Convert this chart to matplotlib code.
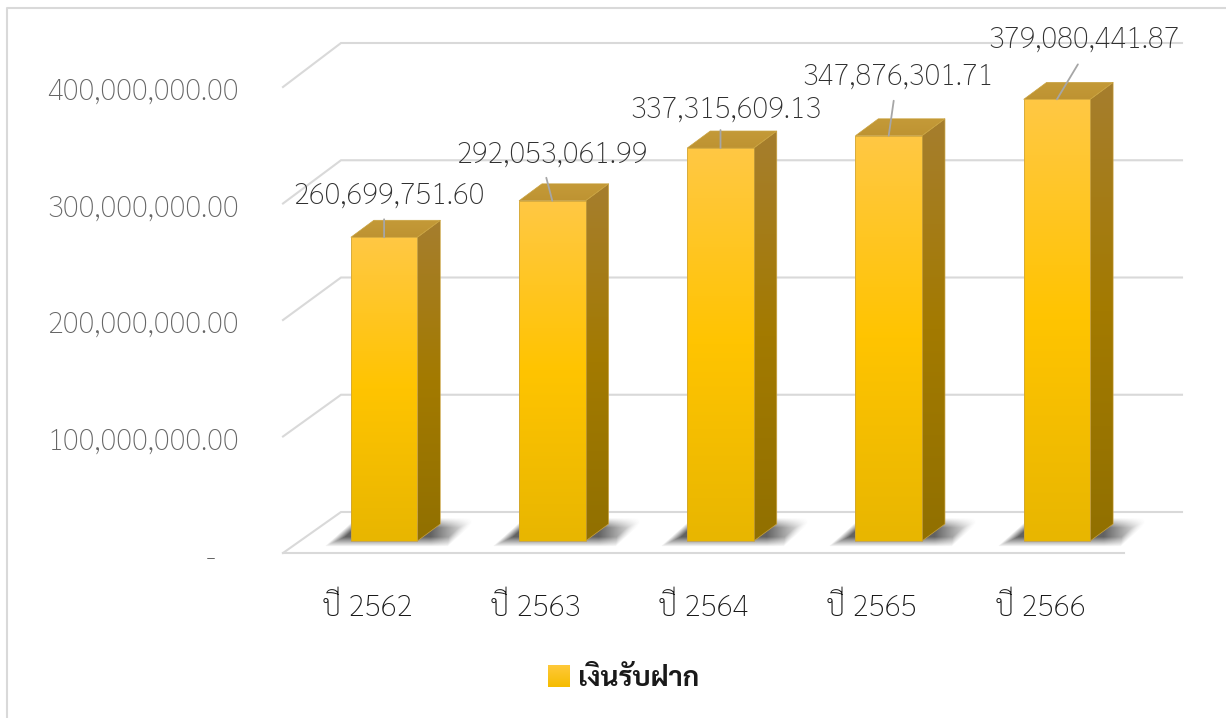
import numpy as np
import matplotlib
matplotlib.use("Agg")
import matplotlib.pyplot as plt
from matplotlib.colors import LinearSegmentedColormap
from matplotlib.patches import Polygon
from matplotlib.image import BboxImage
from matplotlib.legend_handler import HandlerBase
from matplotlib.lines import Line2D
from matplotlib.transforms import Bbox, TransformedBbox, ScaledTranslation

years = ["ปี 2562", "ปี 2563", "ปี 2564", "ปี 2565", "ปี 2566"]
deposits = [260699751.60, 292053061.99, 337315609.13, 347876301.71, 379080441.87]
y_ticks = [0, 100000000, 200000000, 300000000, 400000000]
y_tick_labels = ["-   ", "100,000,000.00", "200,000,000.00", "300,000,000.00", "400,000,000.00"]
series_name = "เงินรับฝาก"

W, H = 1226, 718
FONT = "Sarabun"
plt.rcParams["font.family"] = [FONT, "DejaVu Sans"]

# พิกัดแกนเป็นพิกเซล
AX_L, AX_R, AX_B, AX_T = 283, 1124, 553, 87
PX_X = (AX_R - AX_L) / 5
PX_Y = (AX_B - AX_T) / 400000000
WALL_DX, WALL_DY = 58, 41
WALL_SCALE = 469 / 466


def dx(px):
    return px / PX_X


def dy(px):
    return px / PX_Y


front_cmap = LinearSegmentedColormap.from_list("front", ["#E8B600", "#FFC400", "#FFC844"])
side_cmap = LinearSegmentedColormap.from_list("side", ["#917000", "#A37A00", "#A67E2E"])
top_cmap = LinearSegmentedColormap.from_list("top", ["#BE9332", "#C49A38"])
grad = np.linspace(0, 1, 256).reshape(-1, 1)

fig = plt.figure(figsize=(W / 100, H / 100), dpi=100, facecolor="w")
ax = fig.add_axes([AX_L / W, 1 - AX_B / H, (AX_R - AX_L) / W, (AX_B - AX_T) / H])
ax.set_facecolor("none")
for spine in ax.spines.values():
    spine.set_visible(False)

# เส้นกริดบนผนังและพื้น
for v in y_ticks:
    back = v * WALL_SCALE + dy(WALL_DY)
    ax.plot([-0.5, -0.5 + dx(WALL_DX), 4.5 + dx(WALL_DX)], [v, back, back],
            color="#D9D9D9", lw=1.5, clip_on=False, zorder=1, solid_joinstyle="miter")
ax.plot([-0.5, 4.5], [0, 0], color="#D9D9D9", lw=1.5, clip_on=False, zorder=1)

x_pos = np.arange(len(years))
bar_w = 66.5 / PX_X
shift = dx(17)
base = dy(12)
depth_x, depth_y = dx(23), dy(17)


def gradient_face(verts, cmap, z):
    verts = np.array(verts)
    face = Polygon(verts, closed=True, fc="none", ec="#C9A23F", lw=0.5, zorder=z + 0.1, clip_on=False)
    ax.add_patch(face)
    im = ax.imshow(grad, cmap=cmap, origin="lower", aspect="auto", zorder=z,
                   extent=[verts[:, 0].min(), verts[:, 0].max(), verts[:, 1].min(), verts[:, 1].max()])
    im.set_clip_path(face)
    im.set_clip_box(fig.bbox)


bars = ax.bar(x_pos + shift, deposits, width=bar_w, bottom=base, color="none", zorder=6)

for rect in bars:
    x0, x1 = rect.get_x(), rect.get_x() + rect.get_width()
    y0, y1 = rect.get_y(), rect.get_y() + rect.get_height()

    # เงาบนพื้น
    nx, ny = 180, 40
    gx, gy = np.meshgrid(np.linspace(-40, 140, nx), np.linspace(-6, 30, ny))
    slant = gx - 1.1 * gy
    d = np.minimum.reduce([slant + 17, 100 - slant, gy + 2.5, 20 - gy])
    alpha = np.clip(d / 10 + 0.35, 0, 1) * 0.82
    fade = np.clip((122 - gx) / 42, 0, 1)
    rgba = np.zeros((ny, nx, 4))
    rgba[..., :3] = 0.25
    rgba[..., 3] = alpha * fade
    im = ax.imshow(rgba, origin="lower", aspect="auto", zorder=2, interpolation="bilinear",
                   extent=[x0 + dx(-40), x0 + dx(140), y0 + dy(-6), y0 + dy(30)])
    im.set_clip_on(False)

    gradient_face([(x1, y0), (x1 + depth_x, y0 + depth_y), (x1 + depth_x, y1 + depth_y), (x1, y1)], side_cmap, 3)
    gradient_face([(x0, y1), (x1, y1), (x1 + depth_x, y1 + depth_y), (x0 + depth_x, y1 + depth_y)], top_cmap, 3)
    gradient_face([(x0, y0), (x1, y0), (x1, y1), (x0, y1)], front_cmap, 4)

# ป้ายกำกับค่า
label_off = [(5, 41), (0, 46), (5, 38), (9, 59), (27, 59)]
leader_off = [(0, 18), (-6, 23), (0, 18), (5, 35), (21, 35)]
for rect, val, lo, le in zip(bars, deposits, label_off, leader_off):
    cx = rect.get_x() + rect.get_width() / 2
    top = rect.get_y() + rect.get_height()
    ax.annotate("", xy=(cx, top), xytext=le, textcoords="offset pixels", zorder=7,
                annotation_clip=False,
                arrowprops=dict(arrowstyle="-", color="#A6A6A6", lw=1.3, shrinkA=0, shrinkB=0))
    ax.annotate(f"{val:,.2f}", xy=(cx, top), xytext=lo, textcoords="offset pixels",
                ha="center", va="center", fontsize=21.2, color="#303030", zorder=8,
                fontweight="light", annotation_clip=False)

ax.set_xticks(x_pos, years)
ax.set_yticks(y_ticks, y_tick_labels)
ax.tick_params(axis="x", length=0, pad=29, labelsize=21.5, labelcolor="#1A1A1A")
ax.tick_params(axis="y", length=0, pad=32, labelsize=21.3, labelcolor="#666666")
for lab in ax.get_xticklabels() + ax.get_yticklabels():
    lab.set_fontweight("light")
nudge = ScaledTranslation(0, -2 / 100, fig.dpi_scale_trans)
for lab in ax.get_yticklabels():
    lab.set_transform(lab.get_transform() + nudge)
ax.set_xlim(-0.5, 4.5)
ax.set_ylim(0, 400000000)


class GradientKey(HandlerBase):
    def create_artists(self, legend, orig, xd, yd, w, h, fs, trans):
        key = BboxImage(TransformedBbox(Bbox.from_bounds(-xd, -yd, w, h), trans),
                        cmap=LinearSegmentedColormap.from_list("key", ["#F5BC00", "#FFC93A"]),
                        origin="lower")
        key.set_data(grad)
        return [key]


handle = Line2D([], [])
ax.legend([handle], [series_name], handler_map={handle: GradientKey()}, frameon=False,
          loc="center", bbox_to_anchor=(623.5 / W, 1 - 678.5 / H), bbox_transform=fig.transFigure,
          prop={"size": 20, "weight": "bold"}, labelcolor="#1A1A1A",
          handlelength=0.76, handleheight=0.8, handletextpad=0.33)

# กรอบแผนภูมิ
fig.add_artist(Line2D([7 / W, 7 / W, 1], [0, 1 - 7.5 / H, 1 - 7.5 / H], color="#D9D9D9", lw=1.5))

fig.savefig("out.png", dpi=100)
